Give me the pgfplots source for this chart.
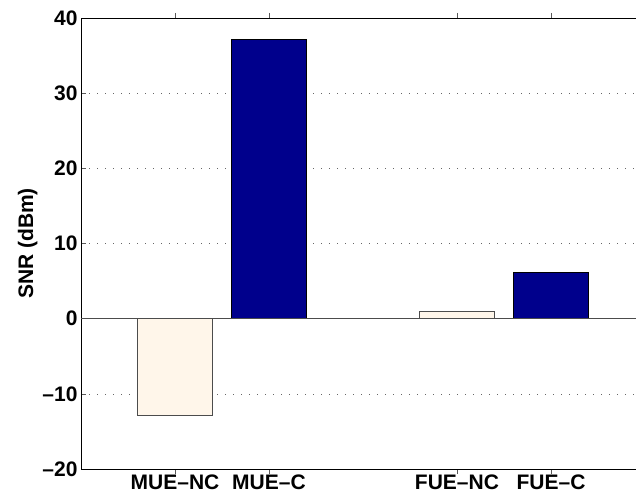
\documentclass[border=0pt]{standalone}
\usepackage{fontspec}
\setmainfont{Liberation Sans}
\usepackage{pgfplots}
\pgfplotsset{compat=1.18}
\usetikzlibrary{calc}
\definecolor{cream}{RGB}{255,246,234}
\definecolor{navy}{RGB}{0,0,140}
\begin{document}
\begin{tikzpicture}
\begin{axis}[
 scale only axis,
 width=564pt, height=451pt,
 xmin=0, xmax=6, ymin=-20, ymax=40,
 xtick={1,2,4,5},
 xticklabels={MUE--NC, MUE--C, FUE--NC, FUE--C},
 ytick={-20,-10,0,10,20,30,40},
 yticklabels={--20,--10,0,10,20,30,40},
 tick align=inside,
 major tick length=5pt,
 tick style={gray!70!black, line width=0.6pt},
 ymajorgrids,
 major grid style={gray!80!black, line width=0.6pt, dash pattern=on 0.8pt off 7.2pt},
 axis line style={black, line width=0.8pt},
 tick label style={font=\fontsize{21}{25}\selectfont\bfseries},
 xticklabel style={anchor=north, yshift=3pt},
 ylabel={SNR (dBm)},
 label style={font=\fontsize{21}{25}\selectfont\bfseries},
 ylabel style={yshift=-2pt},
 ybar, bar width=0.8,
]
\addplot[fill=cream, draw=gray!60!black, line width=0.8pt, bar shift=0pt] coordinates {(1,-12.9) (4,1.0)};
\addplot[fill=navy, draw=black, line width=0.8pt, bar shift=0pt] coordinates {(2,37.2) (5,6.15)};
\draw[gray!60!black, line width=0.8pt] (axis cs:0,0) -- (axis cs:6,0);
\coordinate (bl) at (axis cs:0,-20);
\end{axis}
\pgfresetboundingbox
\path[use as bounding box] ($(bl)+(-81pt,-28pt)$) rectangle ($(bl)+(555pt,469pt)$);
\end{tikzpicture}
\end{document}
